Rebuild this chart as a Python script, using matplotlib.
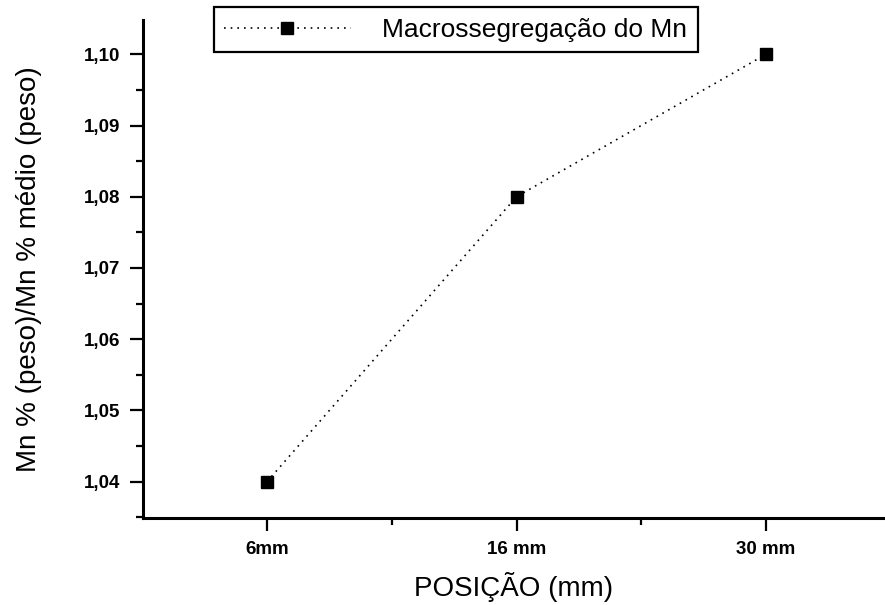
import matplotlib
matplotlib.use("Agg")
import matplotlib.pyplot as plt
from matplotlib.ticker import MultipleLocator, FixedLocator

plt.rcParams['font.family'] = ['Liberation Sans', 'DejaVu Sans']

# Dados
posicoes = ["6mm", "16 mm", "30 mm"]
razao_mn = [1.04, 1.08, 1.10]
legenda = "Macrossegregação do Mn"

fig = plt.figure(figsize=(8.85, 6.05), dpi=100)
ax = fig.add_axes([0.1616, 0.1438, 0.8384, 0.823])

x = list(range(len(posicoes)))
ax.plot(x, razao_mn, color="black", linestyle=(0, (1, 3)), linewidth=1.2,
        marker="s", markersize=8, markerfacecolor="black",
        markeredgecolor="black", label=legenda)

ax.set_xlim(-0.497, 2.477)
ax.set_ylim(1.0349, 1.1048)

# Eixos abertos
for s in ["top", "right"]:
    ax.spines[s].set_visible(False)
for s in ["left", "bottom"]:
    ax.spines[s].set_linewidth(2.2)

ax.set_xticks(x)
ax.set_xticklabels(posicoes, fontsize=13.5, fontweight="bold")
ax.xaxis.set_minor_locator(FixedLocator([0.5, 1.5]))
ax.yaxis.set_major_locator(MultipleLocator(0.01))
ax.yaxis.set_minor_locator(MultipleLocator(0.005))
ax.set_yticklabels([f"{v:.2f}".replace(".", ",") for v in ax.get_yticks()],
                   fontsize=13.5, fontweight="bold")

ax.tick_params(axis="both", which="major", direction="out", length=9.5,
               width=1.6, pad=7)
ax.tick_params(axis="both", which="minor", direction="out", length=5,
               width=1.6)

ax.set_xlabel("POSIÇÃO (mm)", fontsize=20, labelpad=10)
ax.set_ylabel("Mn % (peso)/Mn % médio (peso)", fontsize=20, labelpad=30)

leg = fig.legend(loc="upper center", bbox_to_anchor=(0.515, 0.988),
                 fontsize=19, fancybox=False, edgecolor="black",
                 framealpha=1, handlelength=4.8, handletextpad=1.2,
                 borderpad=0.4, borderaxespad=0)
leg.get_frame().set_linewidth(1.6)

fig.savefig("out.png", dpi=100)
